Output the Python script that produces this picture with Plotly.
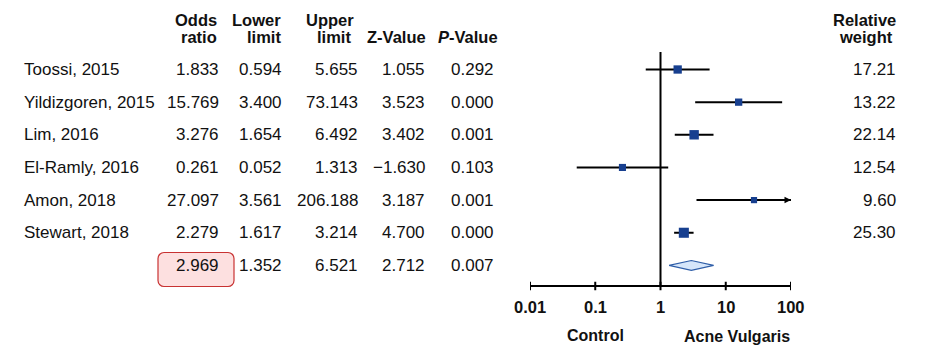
import math
import plotly.graph_objects as go

studies = ["Toossi, 2015", "Yildizgoren, 2015", "Lim, 2016", "El-Ramly, 2016", "Amon, 2018", "Stewart, 2018"]
odds = [1.833, 15.769, 3.276, 0.261, 27.097, 2.279]
lower = [0.594, 3.400, 1.654, 0.052, 3.561, 1.617]
upper = [5.655, 73.143, 6.492, 1.313, 206.188, 3.214]
zval = ["1.055", "3.523", "3.402", "\u22121.630", "3.187", "4.700"]
pval = ["0.292", "0.000", "0.001", "0.103", "0.001", "0.000"]
weights = ["17.21", "13.22", "22.14", "12.54", "9.60", "25.30"]
pooled = {"or": 2.969, "lo": 1.352, "hi": 6.521, "z": "2.712", "p": "0.007"}
ticks = [0.01, 0.1, 1, 10, 100]
tick_labels = ["0.01", "0.1", "1", "10", "100"]

W, H = 935, 349
ROW0, STEP = 69.5, 32.65
def prow(py):  # pixel y -> row coordinate
    return (py - ROW0) / STEP

FONT = "Liberation Sans, Arial, sans-serif"
TXT = "#111111"
BODY = 17
BOLD = 16.5
fig = go.Figure()
xmax = 100.0

n = len(studies)
rows = list(range(n))
# CI lines
for i in rows:
    hi = min(upper[i], xmax)
    fig.add_trace(go.Scatter(x=[lower[i], hi], y=[i, i], mode="lines",
                             line=dict(color="black", width=2), hoverinfo="skip", showlegend=False))
ann = []
# arrows for truncated CIs
for i in rows:
    if upper[i] > xmax:
        ann.append(dict(x=math.log10(xmax), y=i, ax=math.log10(xmax) - 0.3, ay=i,
                        xref="x", yref="y", axref="x", ayref="y", text="",
                        showarrow=True, arrowhead=2, arrowsize=1, arrowwidth=1.3, arrowcolor="black"))
# squares
fig.add_trace(go.Scatter(x=odds, y=rows, mode="markers",
                         marker=dict(symbol="square", color="#173f8f", opacity=1,
                                     size=[2 * math.sqrt(float(w)) for w in weights],
                                     line=dict(width=0)),
                         hoverinfo="skip", showlegend=False))
# diamond
pr = n
hh = 0.15
fig.add_trace(go.Scatter(x=[pooled["lo"], pooled["or"], pooled["hi"], pooled["or"], pooled["lo"]],
                         y=[pr, pr - hh, pr, pr + hh, pr], mode="lines", fill="toself",
                         fillcolor="#d6e6fa", line=dict(color="#2f5ea8", width=1.2),
                         hoverinfo="skip", showlegend=False))
# vertical line at 1
axis_row = prow(286)
fig.add_trace(go.Scatter(x=[1, 1], y=[prow(52), axis_row], mode="lines",
                         line=dict(color="black", width=2), hoverinfo="skip", showlegend=False))
# axis line
fig.add_trace(go.Scatter(x=[ticks[0], ticks[-1]], y=[axis_row, axis_row], mode="lines",
                         line=dict(color="black", width=2), hoverinfo="skip", showlegend=False))
for t in ticks:
    fig.add_trace(go.Scatter(x=[t, t], y=[axis_row - 0.13, axis_row + 0.13], mode="lines",
                             line=dict(color="black", width=2), hoverinfo="skip", showlegend=False))
for t, lab in zip(ticks, tick_labels):
    ann.append(dict(x=math.log10(t), y=prow(307), xref="x", yref="y", text="<b>%s</b>" % lab,
                    showarrow=False, font=dict(size=BOLD, color=TXT, family=FONT)))
ann.append(dict(x=math.log10(0.1), y=prow(335), xref="x", yref="y", text="<b>Control</b>",
                showarrow=False, font=dict(size=16, color=TXT, family=FONT)))
ann.append(dict(x=math.log10(10) + 0.17, y=prow(336), xref="x", yref="y", text="<b>Acne Vulgaris</b>",
                showarrow=False, font=dict(size=16, color=TXT, family=FONT)))

cols_right = {"or": 221, "lo": 284, "hi": 360, "z": 427, "p": 496}
def colx(px):
    return px / W
def add_text(px, row, text, anchor="right", bold=False):
    ann.append(dict(x=colx(px), y=row, xref="paper", yref="y", xanchor=anchor, yanchor="middle",
                    text=("<b>%s</b>" % text) if bold else text, showarrow=False,
                    font=dict(size=BOLD if bold else BODY, color=TXT, family=FONT)))
for i in rows:
    add_text(22, i, studies[i], anchor="left")
    add_text(cols_right["or"], i, "%.3f" % odds[i])
    add_text(cols_right["lo"], i, "%.3f" % lower[i])
    add_text(cols_right["hi"], i, "%.3f" % upper[i])
    add_text(cols_right["z"], i, zval[i])
    add_text(cols_right["p"], i, pval[i])
    add_text(898, i, weights[i])
add_text(cols_right["or"], pr, "%.3f" % pooled["or"])
add_text(cols_right["lo"], pr, "%.3f" % pooled["lo"])
add_text(cols_right["hi"], pr, "%.3f" % pooled["hi"])
add_text(cols_right["z"], pr, pooled["z"])
add_text(cols_right["p"], pr, pooled["p"])

# headers
h1, h2 = prow(20), prow(37)
add_text(219, h1, "Odds", bold=True)
add_text(219, h2, "ratio", bold=True)
add_text(283, h1, "Lower", bold=True)
add_text(283, h2, "limit", bold=True)
add_text(356, h1, "Upper", bold=True)
add_text(353, h2, "limit", bold=True)
add_text(428, h2, "Z-Value", bold=True)
ann.append(dict(x=colx(500), y=h2, xref="paper", yref="y", xanchor="right", yanchor="middle",
                text="<b><i>P</i>-Value</b>", showarrow=False,
                font=dict(size=BOLD, color=TXT, family=FONT)))
add_text(898, h1, "Relative", bold=True)
add_text(895, h2, "weight", bold=True)

# rounded highlight box (paper coordinates)
def rounded_rect(x0, y0, x1, y1, r):
    X = lambda px: px / W
    Y = lambda py: 1 - py / H
    k = 0.45
    p = []
    p.append("M %f,%f" % (X(x0 + r), Y(y0)))
    p.append("L %f,%f" % (X(x1 - r), Y(y0)))
    p.append("C %f,%f %f,%f %f,%f" % (X(x1 - r * k), Y(y0), X(x1), Y(y0 + r * k), X(x1), Y(y0 + r)))
    p.append("L %f,%f" % (X(x1), Y(y1 - r)))
    p.append("C %f,%f %f,%f %f,%f" % (X(x1), Y(y1 - r * k), X(x1 - r * k), Y(y1), X(x1 - r), Y(y1)))
    p.append("L %f,%f" % (X(x0 + r), Y(y1)))
    p.append("C %f,%f %f,%f %f,%f" % (X(x0 + r * k), Y(y1), X(x0), Y(y1 - r * k), X(x0), Y(y1 - r)))
    p.append("L %f,%f" % (X(x0), Y(y0 + r)))
    p.append("C %f,%f %f,%f %f,%f" % (X(x0), Y(y0 + r * k), X(x0 + r * k), Y(y0), X(x0 + r), Y(y0)))
    p.append("Z")
    return " ".join(p)

shapes = [dict(type="path", xref="paper", yref="paper", path=rounded_rect(158, 252.5, 234, 286.5, 6),
               fillcolor="#fde0e0", line=dict(color="#c83232", width=1.2), layer="below")]

fig.update_layout(
    width=W, height=H, margin=dict(l=0, r=0, t=0, b=0),
    paper_bgcolor="white", plot_bgcolor="white",
    xaxis=dict(type="log", range=[-2.0, 2.0], domain=[530 / W, 791 / W],
               showgrid=False, zeroline=False, showticklabels=False, ticks="", showline=False),
    yaxis=dict(range=[prow(H), prow(0)], domain=[0, 1], showgrid=False, zeroline=False,
               showticklabels=False, ticks="", showline=False),
    annotations=ann, shapes=shapes, showlegend=False,
)
fig.write_html("out.html")
